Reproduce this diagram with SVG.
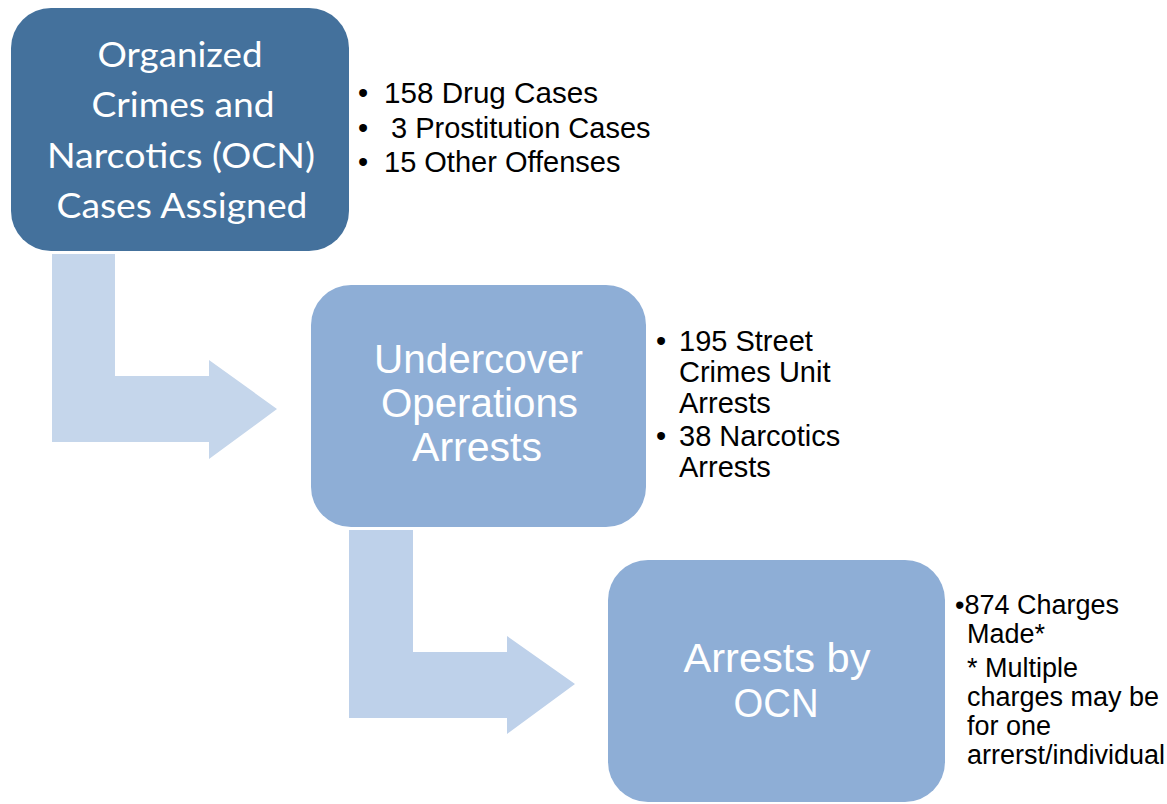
<svg xmlns="http://www.w3.org/2000/svg" width="1167" height="804" viewBox="0 0 1167 804">
<style>
.box1{fill:#44719C;}
.box2{fill:#8EAED6;}
.head1{font-family:Lato,"Open Sans","Noto Sans",sans-serif;font-size:35px;fill:#ffffff;text-anchor:middle;}
.head2{font-family:"Liberation Sans",Arial,sans-serif;font-size:41px;fill:#ffffff;text-anchor:middle;}
.side{font-family:"Liberation Sans",Arial,sans-serif;font-size:29px;fill:#000000;}
.side3{font-family:"Liberation Sans",Arial,sans-serif;font-size:27px;fill:#000000;}
</style>
<rect width="1167" height="804" fill="#ffffff"/>
<g id="connectors">
<polygon fill="#C5D6EB" points="52,254 115,254 115,376 209,376 209,360 277,409 209,459 209,442 52,442"/>
<polygon fill="#BED1EA" points="349,530 413,530 413,652 507,652 507,636 575,684 507,734 507,718 349,718"/>
</g>
<g id="node-ocn-cases">
<rect class="box1" x="11" y="8" width="338" height="243" rx="40" ry="40"/>
<text class="head1" x="180" y="67" textLength="165" lengthAdjust="spacingAndGlyphs">Organized</text>
<text class="head1" x="183" y="117" textLength="183" lengthAdjust="spacingAndGlyphs">Crimes and</text>
<text class="head1" x="181" y="168" textLength="268" lengthAdjust="spacingAndGlyphs">Narcotics (OCN)</text>
<text class="head1" x="182" y="218" textLength="251" lengthAdjust="spacingAndGlyphs">Cases Assigned</text>
</g>
<g id="note-ocn-cases">
<text class="side" x="358" y="103">•</text>
<text class="side" x="384" y="103" textLength="214" lengthAdjust="spacingAndGlyphs">158 Drug Cases</text>
<text class="side" x="358" y="138">•</text>
<text class="side" x="391" y="138">3 Prostitution Cases</text>
<text class="side" x="358" y="172">•</text>
<text class="side" x="384" y="172">15 Other Offenses</text>
</g>
<g id="node-undercover">
<rect class="box2" x="311" y="285" width="335" height="242" rx="40" ry="40"/>
<text class="head2" x="478.5" y="373" textLength="209" lengthAdjust="spacingAndGlyphs">Undercover</text>
<text class="head2" x="479.5" y="417" textLength="197" lengthAdjust="spacingAndGlyphs">Operations</text>
<text class="head2" x="477" y="461" textLength="130" lengthAdjust="spacingAndGlyphs">Arrests</text>
</g>
<g id="note-undercover">
<text class="side" x="656" y="351">•</text>
<text class="side" x="679" y="351">195 Street</text>
<text class="side" x="679" y="382">Crimes Unit</text>
<text class="side" x="679" y="413">Arrests</text>
<text class="side" x="656" y="446">•</text>
<text class="side" x="679" y="446">38 Narcotics</text>
<text class="side" x="679" y="477">Arrests</text>
</g>
<g id="node-arrests-ocn">
<rect class="box2" x="608" y="560" width="337" height="242" rx="40" ry="40"/>
<text class="head2" x="777" y="672" font-size="40" textLength="187" lengthAdjust="spacingAndGlyphs">Arrests by</text>
<text class="head2" x="776" y="717" font-size="40" textLength="85" lengthAdjust="spacingAndGlyphs">OCN</text>
</g>
<g id="note-arrests-ocn">
<text class="side3" x="955" y="614">•874 Charges</text>
<text class="side3" x="967" y="643">Made*</text>
<text class="side3" x="967" y="677">* Multiple</text>
<text class="side3" x="967" y="706">charges may be</text>
<text class="side3" x="967" y="735">for one</text>
<text class="side3" x="967" y="764">arrerst/individual</text>
</g>
</svg>
